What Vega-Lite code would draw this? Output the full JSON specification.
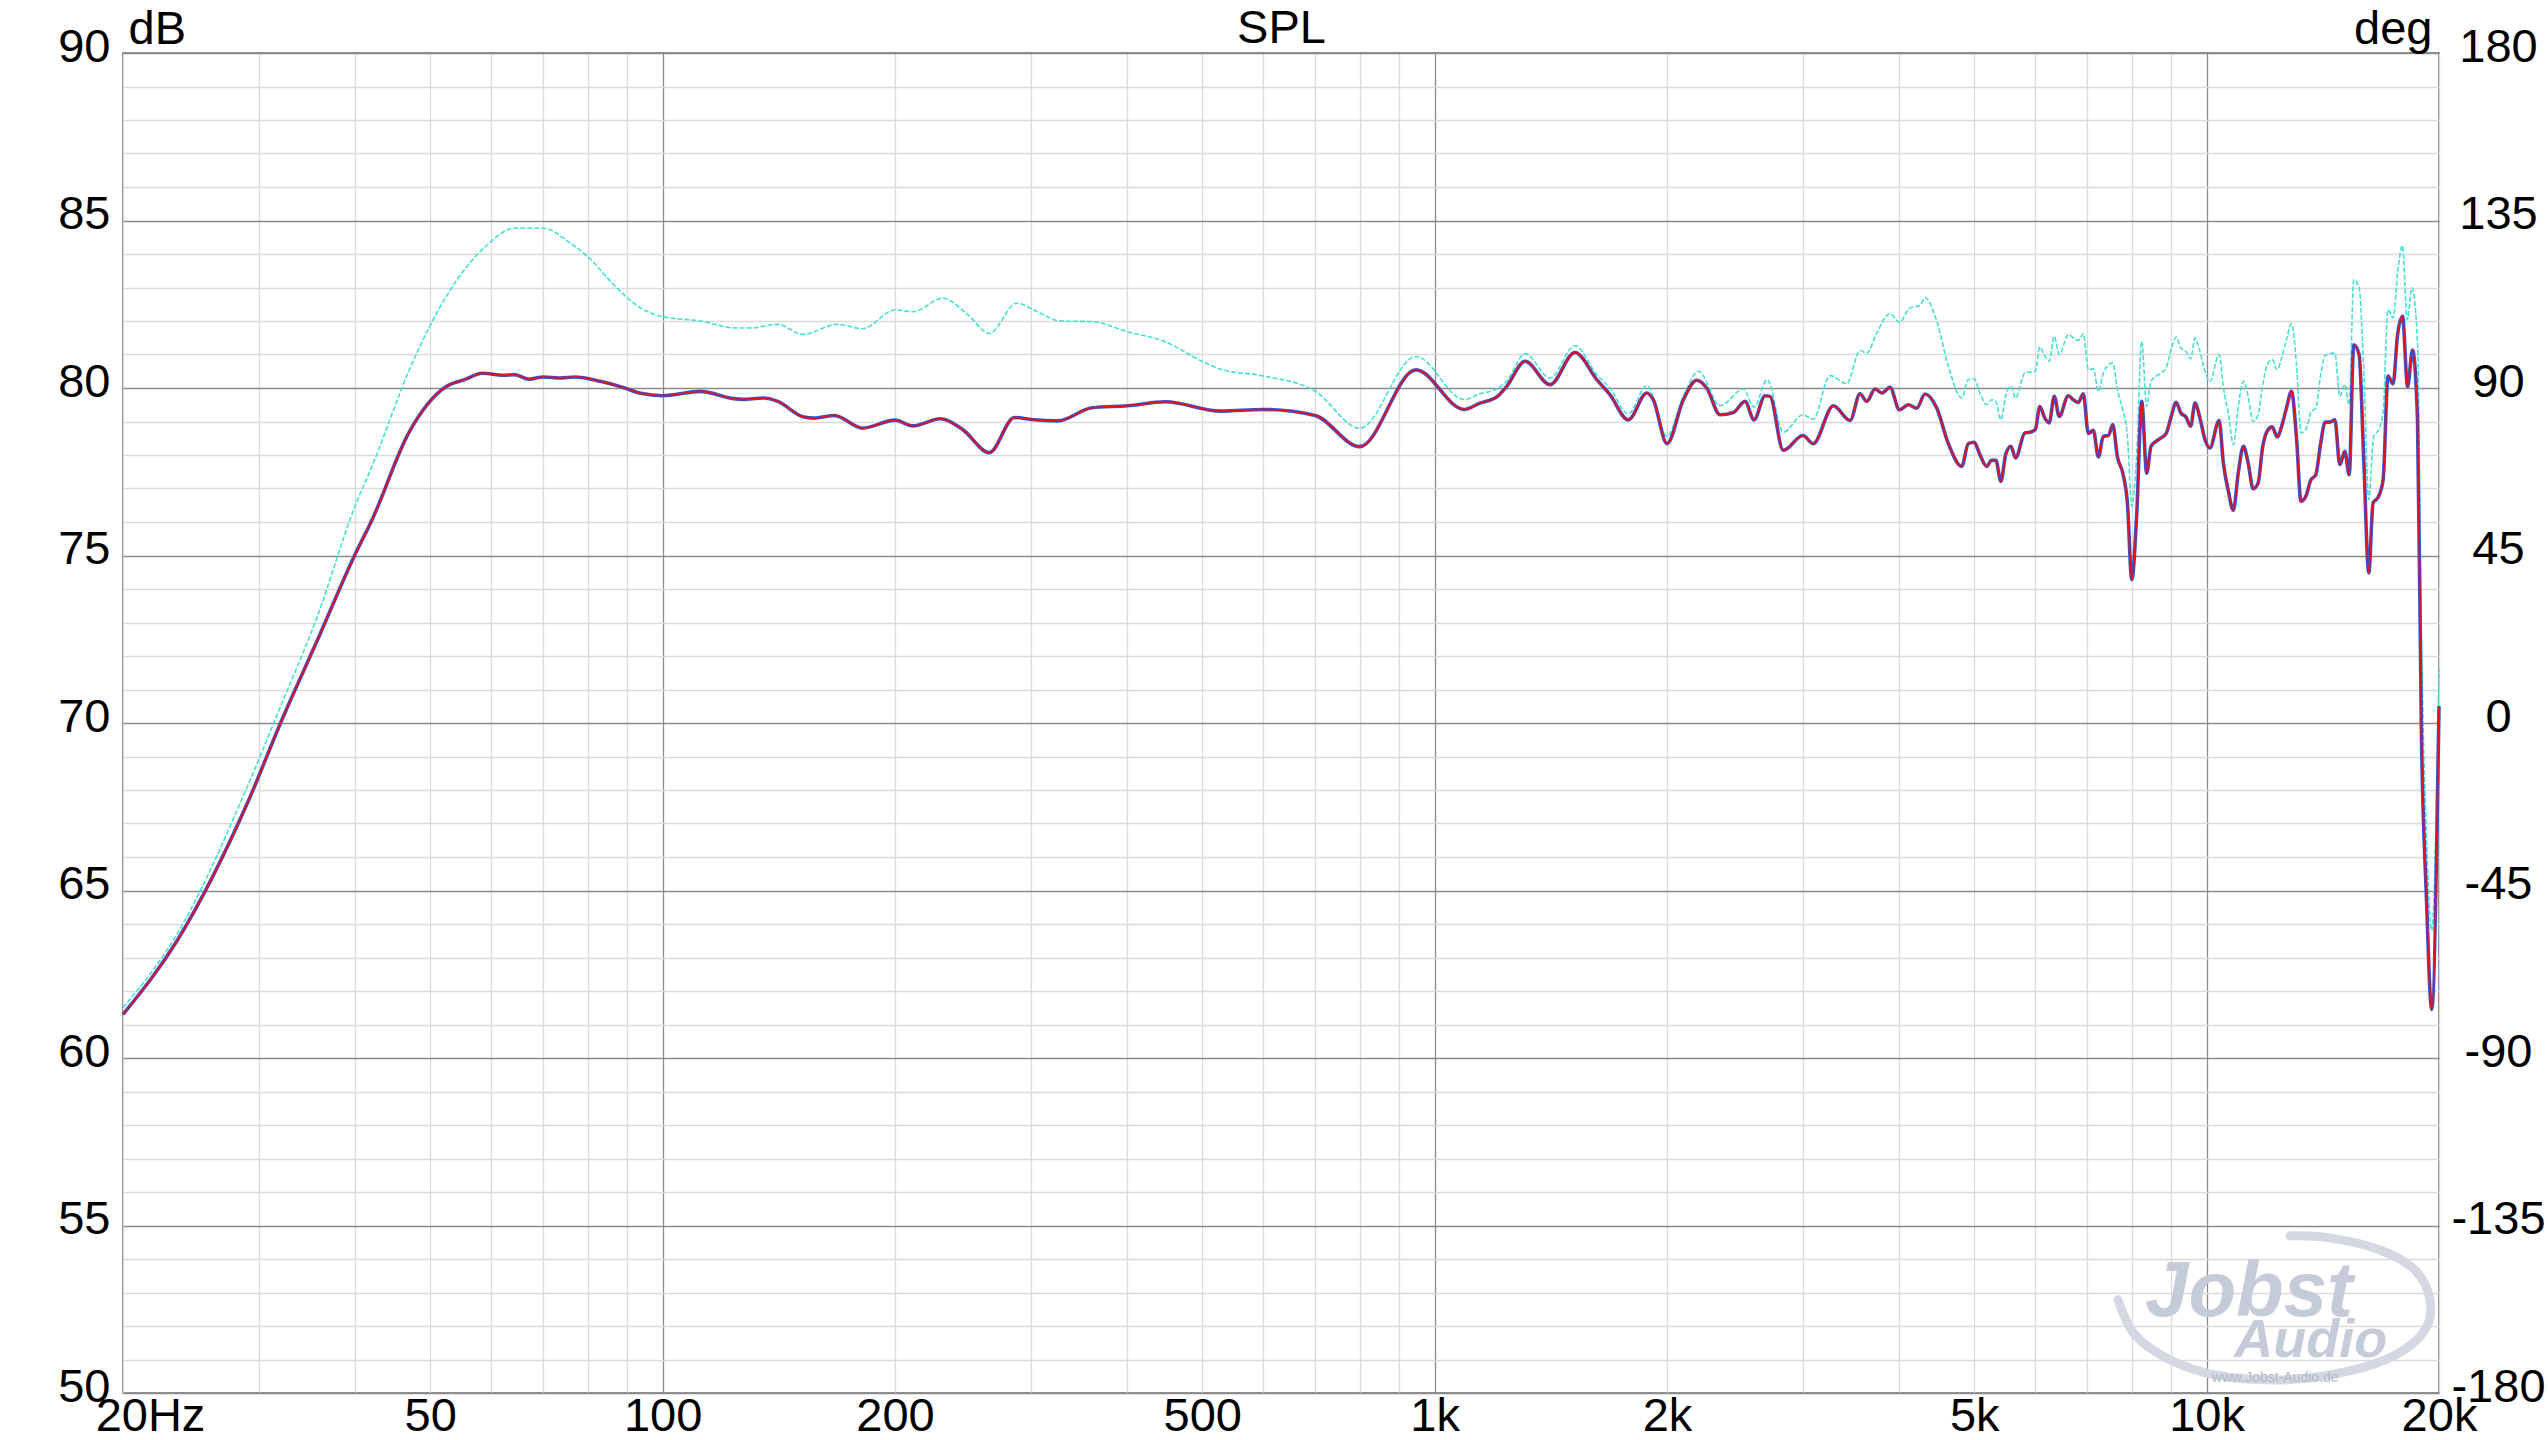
{
  "$schema": "https://vega.github.io/schema/vega-lite/v6.json",
  "width": 2316,
  "height": 1340,
  "autosize": {"type": "none"},
  "padding": {"left": 123, "top": 53, "right": 109, "bottom": 47},
  "background": "white",
  "config": {
    "font": "Liberation Sans",
    "view": {"stroke": "#6e6e6e", "strokeWidth": 1.6}
  },
  "datasets": {
    "spl": [
      {"f": 20, "db": 61.3}, {"f": 23.5, "db": 63.5}, {"f": 29.1, "db": 67.7}, {"f": 32, "db": 70.0},
      {"f": 35.6, "db": 72.4}, {"f": 40, "db": 75.05}, {"f": 42.1, "db": 76.1}, {"f": 46.9, "db": 78.66},
      {"f": 52.5, "db": 80.05}, {"f": 55.4, "db": 80.25}, {"f": 58.4, "db": 80.44}, {"f": 62.2, "db": 80.38},
      {"f": 64.3, "db": 80.4}, {"f": 67.1, "db": 80.26}, {"f": 70.1, "db": 80.33}, {"f": 73.6, "db": 80.3},
      {"f": 76.9, "db": 80.33}, {"f": 83, "db": 80.2}, {"f": 89.3, "db": 80.0}, {"f": 93.7, "db": 79.84},
      {"f": 100, "db": 79.77}, {"f": 112, "db": 79.9}, {"f": 123, "db": 79.69}, {"f": 127, "db": 79.66},
      {"f": 135, "db": 79.7}, {"f": 141, "db": 79.6}, {"f": 152, "db": 79.14}, {"f": 157, "db": 79.1},
      {"f": 167, "db": 79.18}, {"f": 181.5, "db": 78.8}, {"f": 200, "db": 79.04}, {"f": 211, "db": 78.87},
      {"f": 229, "db": 79.08}, {"f": 245, "db": 78.75}, {"f": 265, "db": 78.07}, {"f": 285.6, "db": 79.12},
      {"f": 300, "db": 79.06}, {"f": 325, "db": 79.02}, {"f": 360, "db": 79.41}, {"f": 400, "db": 79.47},
      {"f": 448, "db": 79.59}, {"f": 528, "db": 79.31}, {"f": 600, "db": 79.36}, {"f": 700, "db": 79.18},
      {"f": 800, "db": 78.25}, {"f": 946, "db": 80.54}, {"f": 1092, "db": 79.36}, {"f": 1145, "db": 79.55},
      {"f": 1203, "db": 79.73}, {"f": 1240, "db": 80.05}, {"f": 1310, "db": 80.8}, {"f": 1411, "db": 80.1},
      {"f": 1520, "db": 81.06}, {"f": 1622, "db": 80.25}, {"f": 1687, "db": 79.8}, {"f": 1782, "db": 79.05},
      {"f": 1883, "db": 79.85}, {"f": 1920, "db": 79.65}, {"f": 2000, "db": 78.34}, {"f": 2100, "db": 79.65},
      {"f": 2186, "db": 80.23}, {"f": 2251, "db": 80.0}, {"f": 2343, "db": 79.2}, {"f": 2438, "db": 79.27},
      {"f": 2524, "db": 79.6}, {"f": 2593, "db": 79.05}, {"f": 2679, "db": 79.77}, {"f": 2719, "db": 79.75},
      {"f": 2829, "db": 78.14}, {"f": 3000, "db": 78.58}, {"f": 3094, "db": 78.34}, {"f": 3285, "db": 79.47},
      {"f": 3453, "db": 79.03}, {"f": 3557, "db": 79.83}, {"f": 3629, "db": 79.6}, {"f": 3720, "db": 79.97},
      {"f": 3795, "db": 79.85}, {"f": 3890, "db": 80.02}, {"f": 4000, "db": 79.35}, {"f": 4108, "db": 79.5},
      {"f": 4212, "db": 79.4}, {"f": 4318, "db": 79.82}, {"f": 4471, "db": 79.4}, {"f": 4629, "db": 78.34},
      {"f": 4817, "db": 77.66}, {"f": 4913, "db": 78.34}, {"f": 5000, "db": 78.38}, {"f": 5086, "db": 78.01},
      {"f": 5188, "db": 77.66}, {"f": 5266, "db": 77.84}, {"f": 5334, "db": 77.84}, {"f": 5414, "db": 77.21},
      {"f": 5496, "db": 78.04}, {"f": 5579, "db": 78.26}, {"f": 5656, "db": 77.91}, {"f": 5815, "db": 78.66},
      {"f": 5903, "db": 78.68}, {"f": 6000, "db": 78.76}, {"f": 6081, "db": 79.45}, {"f": 6173, "db": 79.1},
      {"f": 6253, "db": 78.96}, {"f": 6348, "db": 79.75}, {"f": 6444, "db": 79.15}, {"f": 6619, "db": 79.77},
      {"f": 6719, "db": 79.65}, {"f": 6820, "db": 79.57}, {"f": 6923, "db": 79.83}, {"f": 7028, "db": 78.64},
      {"f": 7133, "db": 78.74}, {"f": 7241, "db": 77.94}, {"f": 7350, "db": 78.56}, {"f": 7461, "db": 78.58},
      {"f": 7558, "db": 78.91}, {"f": 7665, "db": 77.94}, {"f": 7788, "db": 77.46}, {"f": 7896, "db": 76.57},
      {"f": 8000, "db": 74.28}, {"f": 8120, "db": 76.27}, {"f": 8240, "db": 79.6}, {"f": 8364, "db": 77.46},
      {"f": 8473, "db": 78.26}, {"f": 8601, "db": 78.41}, {"f": 8729, "db": 78.51}, {"f": 8861, "db": 78.64},
      {"f": 8994, "db": 79.13}, {"f": 9129, "db": 79.57}, {"f": 9265, "db": 79.25}, {"f": 9404, "db": 79.13},
      {"f": 9536, "db": 78.86}, {"f": 9660, "db": 79.55}, {"f": 9804, "db": 79.1}, {"f": 9952, "db": 78.46},
      {"f": 10100, "db": 78.21}, {"f": 10380, "db": 79.03}, {"f": 10515, "db": 77.74}, {"f": 10670, "db": 76.92},
      {"f": 10830, "db": 76.35}, {"f": 10990, "db": 77.46}, {"f": 11160, "db": 78.26}, {"f": 11320, "db": 77.76},
      {"f": 11490, "db": 76.99}, {"f": 11660, "db": 77.16}, {"f": 11815, "db": 78.21}, {"f": 11980, "db": 78.71},
      {"f": 12160, "db": 78.84}, {"f": 12345, "db": 78.54}, {"f": 12527, "db": 78.91}, {"f": 12690, "db": 79.4},
      {"f": 12880, "db": 79.9}, {"f": 13080, "db": 78.46}, {"f": 13250, "db": 76.62}, {"f": 13445, "db": 76.77},
      {"f": 13650, "db": 77.26}, {"f": 13850, "db": 77.41}, {"f": 14045, "db": 78.31}, {"f": 14240, "db": 78.98},
      {"f": 14440, "db": 78.98}, {"f": 14660, "db": 79.05}, {"f": 14880, "db": 77.71}, {"f": 15100, "db": 78.11},
      {"f": 15300, "db": 77.41}, {"f": 15510, "db": 81.29}, {"f": 15760, "db": 81.0}, {"f": 15980, "db": 77.86},
      {"f": 16220, "db": 74.48}, {"f": 16430, "db": 76.57}, {"f": 16680, "db": 76.74}, {"f": 16930, "db": 77.26},
      {"f": 17180, "db": 80.36}, {"f": 17440, "db": 80.12}, {"f": 17670, "db": 81.56}, {"f": 17940, "db": 82.14},
      {"f": 18210, "db": 80.04}, {"f": 18480, "db": 81.13}, {"f": 18760, "db": 79.03}, {"f": 18980, "db": 69.62},
      {"f": 19260, "db": 64.85}, {"f": 19570, "db": 61.45}, {"f": 20000, "db": 70.5}
    ],
    "ref": [
      {"f": 20, "db": 61.5}, {"f": 23.5, "db": 63.7}, {"f": 29.1, "db": 68.2}, {"f": 32, "db": 70.5},
      {"f": 35.6, "db": 73.1}, {"f": 40, "db": 76.5}, {"f": 42.1, "db": 77.7}, {"f": 46.9, "db": 80.5},
      {"f": 52.5, "db": 82.75}, {"f": 59, "db": 84.23}, {"f": 64.3, "db": 84.77}, {"f": 70, "db": 84.77},
      {"f": 76.1, "db": 84.31}, {"f": 80.2, "db": 83.9}, {"f": 85.8, "db": 83.16}, {"f": 93.5, "db": 82.4},
      {"f": 100, "db": 82.13}, {"f": 112, "db": 82.0}, {"f": 124.6, "db": 81.79}, {"f": 129.7, "db": 81.79},
      {"f": 141, "db": 81.9}, {"f": 152, "db": 81.6}, {"f": 168.4, "db": 81.9}, {"f": 181.5, "db": 81.77},
      {"f": 200, "db": 82.33}, {"f": 211, "db": 82.28}, {"f": 230.7, "db": 82.68}, {"f": 248.7, "db": 82.18},
      {"f": 265, "db": 81.63}, {"f": 287.5, "db": 82.53}, {"f": 305.7, "db": 82.28}, {"f": 327.3, "db": 82.0},
      {"f": 360, "db": 81.98}, {"f": 400, "db": 81.68}, {"f": 448, "db": 81.38}, {"f": 500.3, "db": 80.79},
      {"f": 528, "db": 80.56}, {"f": 600, "db": 80.36}, {"f": 700, "db": 79.91}, {"f": 800, "db": 78.8},
      {"f": 946, "db": 80.94}, {"f": 1092, "db": 79.66}, {"f": 1145, "db": 79.83}, {"f": 1203, "db": 79.97},
      {"f": 1240, "db": 80.2}, {"f": 1310, "db": 81.02}, {"f": 1411, "db": 80.3}, {"f": 1520, "db": 81.26},
      {"f": 1622, "db": 80.4}, {"f": 1687, "db": 80.0}, {"f": 1782, "db": 79.23}, {"f": 1883, "db": 80.07},
      {"f": 2000, "db": 78.56}, {"f": 2100, "db": 79.75}, {"f": 2197, "db": 80.5}, {"f": 2343, "db": 79.47},
      {"f": 2512, "db": 79.97}, {"f": 2593, "db": 79.43}, {"f": 2697, "db": 80.25}, {"f": 2829, "db": 78.68},
      {"f": 3000, "db": 79.2}, {"f": 3094, "db": 79.07}, {"f": 3252, "db": 80.37}, {"f": 3418, "db": 80.13},
      {"f": 3557, "db": 81.12}, {"f": 3629, "db": 81.04}, {"f": 3738, "db": 81.64}, {"f": 3890, "db": 82.22},
      {"f": 4000, "db": 81.96}, {"f": 4128, "db": 82.39}, {"f": 4253, "db": 82.46}, {"f": 4318, "db": 82.7},
      {"f": 4471, "db": 82.0}, {"f": 4629, "db": 80.65}, {"f": 4817, "db": 79.7}, {"f": 4913, "db": 80.25},
      {"f": 5000, "db": 80.27}, {"f": 5086, "db": 79.85}, {"f": 5188, "db": 79.5}, {"f": 5266, "db": 79.65},
      {"f": 5334, "db": 79.6}, {"f": 5414, "db": 79.05}, {"f": 5496, "db": 79.8}, {"f": 5579, "db": 80.05},
      {"f": 5656, "db": 79.7}, {"f": 5815, "db": 80.45}, {"f": 6000, "db": 80.5}, {"f": 6081, "db": 81.22},
      {"f": 6173, "db": 80.95}, {"f": 6253, "db": 80.8}, {"f": 6348, "db": 81.54}, {"f": 6444, "db": 81.0},
      {"f": 6619, "db": 81.59}, {"f": 6820, "db": 81.42}, {"f": 6923, "db": 81.62}, {"f": 7028, "db": 80.55},
      {"f": 7133, "db": 80.57}, {"f": 7241, "db": 79.9}, {"f": 7350, "db": 80.45}, {"f": 7558, "db": 80.75},
      {"f": 7665, "db": 79.95}, {"f": 7788, "db": 79.35}, {"f": 7896, "db": 78.56}, {"f": 8000, "db": 76.47},
      {"f": 8120, "db": 78.06}, {"f": 8240, "db": 81.39}, {"f": 8364, "db": 79.45}, {"f": 8473, "db": 80.2},
      {"f": 8729, "db": 80.45}, {"f": 8861, "db": 80.6}, {"f": 8994, "db": 81.14}, {"f": 9129, "db": 81.52},
      {"f": 9265, "db": 81.19}, {"f": 9404, "db": 81.09}, {"f": 9536, "db": 80.87}, {"f": 9660, "db": 81.49},
      {"f": 9804, "db": 81.09}, {"f": 9952, "db": 80.5}, {"f": 10100, "db": 80.2}, {"f": 10380, "db": 81.0},
      {"f": 10515, "db": 80.0}, {"f": 10670, "db": 79.25}, {"f": 10830, "db": 78.31}, {"f": 10990, "db": 79.45},
      {"f": 11160, "db": 80.2}, {"f": 11320, "db": 79.75}, {"f": 11490, "db": 79.0}, {"f": 11660, "db": 79.2},
      {"f": 11815, "db": 80.05}, {"f": 11980, "db": 80.7}, {"f": 12160, "db": 80.85}, {"f": 12345, "db": 80.55},
      {"f": 12527, "db": 80.95}, {"f": 12690, "db": 81.44}, {"f": 12880, "db": 81.92}, {"f": 13080, "db": 80.65},
      {"f": 13250, "db": 78.66}, {"f": 13445, "db": 78.76}, {"f": 13650, "db": 79.27}, {"f": 13850, "db": 79.4},
      {"f": 14045, "db": 80.35}, {"f": 14240, "db": 80.97}, {"f": 14660, "db": 81.04}, {"f": 14880, "db": 79.75},
      {"f": 15100, "db": 80.1}, {"f": 15300, "db": 79.5}, {"f": 15510, "db": 83.23}, {"f": 15760, "db": 82.99},
      {"f": 15980, "db": 80.55}, {"f": 16220, "db": 76.67}, {"f": 16460, "db": 78.56}, {"f": 16710, "db": 78.76},
      {"f": 16925, "db": 79.25}, {"f": 17180, "db": 82.34}, {"f": 17440, "db": 82.09}, {"f": 17700, "db": 83.53},
      {"f": 17930, "db": 84.25}, {"f": 18200, "db": 82.04}, {"f": 18450, "db": 82.99}, {"f": 18760, "db": 81.35},
      {"f": 18980, "db": 72.5}, {"f": 19260, "db": 66.7}, {"f": 19570, "db": 63.8}, {"f": 20000, "db": 71.6}
    ],
    "swoosh": [
      {"i": 1, "f": 7678, "db": 52.78}, {"i": 2, "f": 8078, "db": 51.73}, {"i": 3, "f": 8966, "db": 50.99},
      {"i": 4, "f": 10253, "db": 50.54}, {"i": 5, "f": 12443, "db": 50.39}, {"i": 6, "f": 15108, "db": 50.63},
      {"i": 7, "f": 17539, "db": 51.13}, {"i": 8, "f": 19180, "db": 51.88}, {"i": 9, "f": 19470, "db": 52.78},
      {"i": 10, "f": 18614, "db": 53.67}, {"i": 11, "f": 16773, "db": 54.27}, {"i": 12, "f": 14450, "db": 54.63},
      {"i": 13, "f": 12824, "db": 54.69}
    ],
    "logo": [
      {"f": 11350, "db": 52.3, "word": "Jobst"},
      {"f": 13640, "db": 51.07, "word": "Audio"},
      {"f": 12270, "db": 50.45, "word": "www.Jobst-Audio.de"}
    ]
  },
  "layer": [
    {
      "data": {"name": "swoosh"},
      "mark": {"type": "line", "color": "#d4d8e3", "strokeWidth": 9, "interpolate": "cardinal", "strokeCap": "round"},
      "encoding": {
        "x": {"field": "f", "type": "quantitative", "scale": {"type": "log", "domain": [20, 20000], "nice": false}, "axis": null},
        "y": {"field": "db", "type": "quantitative", "scale": {"domain": [50, 90], "nice": false, "zero": false}, "axis": null},
        "order": {"field": "i"}
      }
    },
    {
      "data": {"name": "logo"},
      "transform": [{"filter": "datum.word == 'Jobst'"}],
      "mark": {"type": "text", "font": "Liberation Sans", "fontStyle": "italic", "fontWeight": "bold", "fontSize": 78, "color": "#c6cbd9", "baseline": "alphabetic", "align": "center"},
      "encoding": {
        "x": {"field": "f", "type": "quantitative", "axis": null},
        "y": {"field": "db", "type": "quantitative", "axis": null},
        "text": {"field": "word"}
      }
    },
    {
      "data": {"name": "logo"},
      "transform": [{"filter": "datum.word == 'Audio'"}],
      "mark": {"type": "text", "font": "Liberation Sans", "fontStyle": "italic", "fontWeight": "bold", "fontSize": 54, "color": "#c6cbd9", "baseline": "alphabetic", "align": "center"},
      "encoding": {
        "x": {"field": "f", "type": "quantitative", "axis": null},
        "y": {"field": "db", "type": "quantitative", "axis": null},
        "text": {"field": "word"}
      }
    },
    {
      "data": {"name": "logo"},
      "transform": [{"filter": "datum.word == 'www.Jobst-Audio.de'"}],
      "mark": {"type": "text", "font": "Liberation Sans", "fontSize": 14, "color": "#b4b9c6", "baseline": "middle", "align": "center"},
      "encoding": {
        "x": {"field": "f", "type": "quantitative", "axis": null},
        "y": {"field": "db", "type": "quantitative", "axis": null},
        "text": {"field": "word"}
      }
    },
    {
      "data": {"name": "ref"},
      "mark": {"type": "line", "color": "#45e0d2", "strokeWidth": 1.6, "strokeDash": [5, 2], "interpolate": "monotone"},
      "encoding": {
        "x": {"field": "f", "type": "quantitative", "axis": null},
        "y": {"field": "db", "type": "quantitative", "axis": null}
      }
    },
    {
      "data": {"name": "spl"},
      "mark": {"type": "line", "color": "#3356cc", "strokeWidth": 3.6, "interpolate": "monotone"},
      "encoding": {
        "x": {
          "field": "f",
          "type": "quantitative",
          "axis": {
            "values": [20, 30, 40, 50, 60, 70, 80, 90, 100, 200, 300, 400, 500, 600, 700, 800, 900, 1000, 2000, 3000, 4000, 5000, 6000, 7000, 8000, 9000, 10000, 20000],
            "title": null,
            "domain": false,
            "ticks": false,
            "grid": true,
            "gridColor": {"condition": {"test": "datum.value == 100 || datum.value == 1000 || datum.value == 10000", "value": "#8a8a8a"}, "value": "#dadada"},
            "gridWidth": 1.3,
            "labelExpr": "indexof([20, 50, 100, 200, 500, 1000, 2000, 5000, 10000, 20000], datum.value) >= 0 ? (datum.value == 20 ? '20Hz' : (datum.value >= 1000 ? (datum.value / 1000) + 'k' : datum.value + '')) : ''",
            "labelOffset": {"condition": {"test": "datum.value == 20", "value": 27}, "value": 0},
            "labelFont": "Liberation Sans",
            "labelFontSize": 47,
            "labelColor": "black",
            "labelPadding": 0,
            "labelFlush": false,
            "labelOverlap": false,
            "labelBound": false
          }
        },
        "y": {
          "field": "db",
          "type": "quantitative",
          "axis": {
            "values": [50, 51, 52, 53, 54, 55, 56, 57, 58, 59, 60, 61, 62, 63, 64, 65, 66, 67, 68, 69, 70, 71, 72, 73, 74, 75, 76, 77, 78, 79, 80, 81, 82, 83, 84, 85, 86, 87, 88, 89, 90],
            "domain": false,
            "ticks": false,
            "grid": true,
            "gridColor": {"condition": {"test": "datum.value % 5 == 0", "value": "#8a8a8a"}, "value": "#dadada"},
            "gridWidth": 1.3,
            "labelExpr": "datum.value % 5 == 0 ? datum.label : ''",
            "labelFont": "Liberation Sans",
            "labelFontSize": 47,
            "labelColor": "black",
            "labelPadding": 13,
            "labelOffset": -6,
            "labelFlush": false,
            "labelOverlap": false,
            "labelBound": false,
            "title": "dB",
            "titleAngle": 0,
            "titleX": 5,
            "titleY": -10,
            "titleAlign": "left",
            "titleBaseline": "alphabetic",
            "titleFont": "Liberation Sans",
            "titleFontSize": 47,
            "titleFontWeight": "normal",
            "titleColor": "black"
          }
        }
      }
    },
    {
      "data": {"name": "spl"},
      "mark": {"type": "line", "color": "#e0102a", "strokeWidth": 1.8, "interpolate": "monotone"},
      "encoding": {
        "x": {
          "field": "f",
          "type": "quantitative",
          "axis": {
            "orient": "top",
            "values": [],
            "domain": false,
            "ticks": false,
            "grid": false,
            "labels": false,
            "title": "SPL",
            "titleAngle": 0,
            "titleX": 1158,
            "titleY": -11,
            "titleAlign": "center",
            "titleBaseline": "alphabetic",
            "titleFont": "Liberation Sans",
            "titleFontSize": 47,
            "titleFontWeight": "normal",
            "titleColor": "black"
          }
        },
        "y": {
          "field": "db",
          "type": "quantitative",
          "axis": {
            "orient": "right",
            "values": [50, 55, 60, 65, 70, 75, 80, 85, 90],
            "domain": false,
            "ticks": false,
            "grid": false,
            "labelExpr": "'' + ((datum.value - 70) * 9)",
            "labelAlign": "center",
            "labelFont": "Liberation Sans",
            "labelFontSize": 47,
            "labelColor": "black",
            "labelPadding": 59,
            "labelOffset": -6,
            "labelFlush": false,
            "labelOverlap": false,
            "labelBound": false,
            "title": "deg",
            "titleAngle": 0,
            "titleX": -7,
            "titleY": -10,
            "titleAlign": "right",
            "titleBaseline": "alphabetic",
            "titleFont": "Liberation Sans",
            "titleFontSize": 47,
            "titleFontWeight": "normal",
            "titleColor": "black"
          }
        }
      }
    }
  ],
  "resolve": {"axis": {"x": "independent", "y": "independent"}}
}
